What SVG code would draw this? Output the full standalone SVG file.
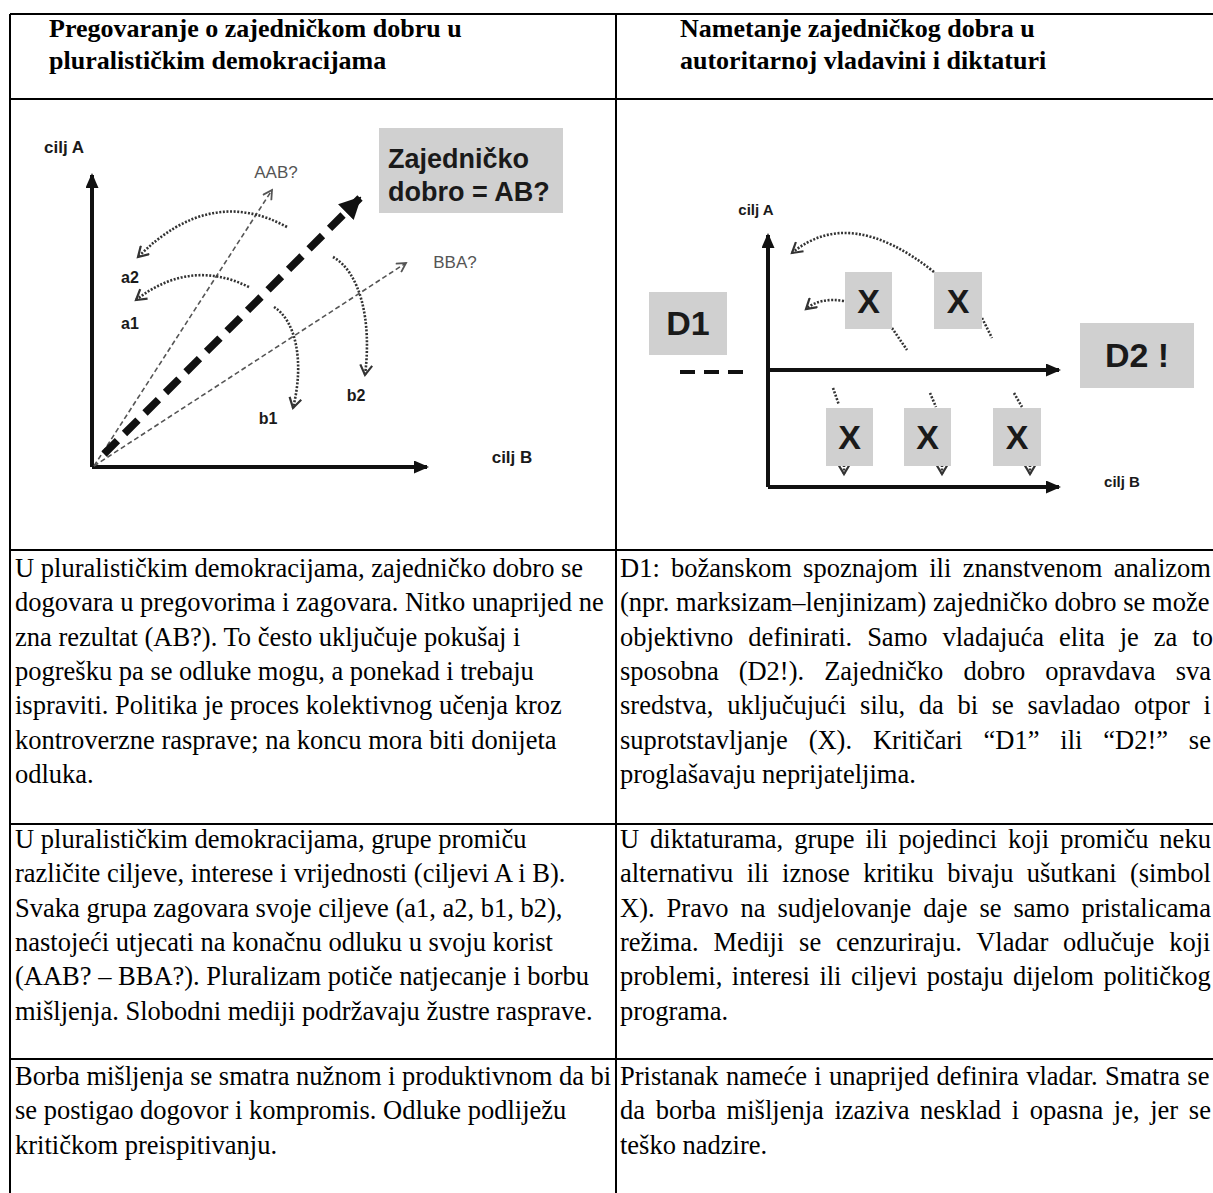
<svg xmlns="http://www.w3.org/2000/svg" width="1213" height="1193" viewBox="0 0 1213 1193">
<defs>
<style>
.grid{stroke:#000;stroke-width:2;fill:none}
.hd{font-family:"Liberation Serif","Times New Roman",serif;font-weight:bold;font-size:26px;fill:#000}
.b{font-family:"Liberation Serif","Times New Roman",serif;font-size:26.5px;fill:#000}
.dg{font-family:"Liberation Sans",Arial,sans-serif;font-weight:bold;fill:#1a1a1a}
.lbl{font-family:"Liberation Sans",Arial,sans-serif;font-size:17px;fill:#555}
.box{fill:#d0d0d0}
.axis{stroke:#111;stroke-width:4;fill:none}
.thin{stroke:#555;stroke-width:1.6;stroke-dasharray:5 3;fill:none}
.dot{stroke:#333;stroke-width:2.6;stroke-dasharray:2 1.6;fill:none}
</style>
<marker id="tri" viewBox="0 0 15 13" refX="13" refY="6.5" markerWidth="15" markerHeight="13" markerUnits="userSpaceOnUse" orient="auto"><path d="M0,0 L15,6.5 L0,13 z" fill="#111"/></marker>
<marker id="bigtri" viewBox="0 0 22 22" refX="20" refY="11" markerWidth="22" markerHeight="22" markerUnits="userSpaceOnUse" orient="auto"><path d="M0,0 L22,11 L0,22 z" fill="#111"/></marker>
<marker id="chev" viewBox="0 0 12 12" refX="10" refY="6" markerWidth="12" markerHeight="12" markerUnits="userSpaceOnUse" orient="auto"><path d="M1,1 L10,6 L1,11" fill="none" stroke="#555" stroke-width="1.8"/></marker>
<marker id="chevd" viewBox="0 0 14 14" refX="11" refY="7" markerWidth="14" markerHeight="14" markerUnits="userSpaceOnUse" orient="auto"><path d="M1,1 L11,7 L1,13" fill="none" stroke="#333" stroke-width="2.2"/></marker>
</defs>
<rect width="1213" height="1193" fill="#fff"/>

<g id="table">
<path class="grid" d="M10,14 H1213 M10,99 H1213 M10,550 H1213 M10,824 H1213 M10,1059 H1213 M10,14 V1193 M616,14 V1193"/>
</g>

<g id="header-left"><text class="hd" x="49" y="37">Pregovaranje o zajedničkom dobru u</text><text class="hd" x="49" y="69">pluralističkim demokracijama</text></g>
<g id="header-right"><text class="hd" x="680" y="37">Nametanje zajedničkog dobra u</text><text class="hd" x="680" y="69">autoritarnoj vladavini i diktaturi</text></g>

<g id="diagram-left">
<g id="left-connectors">
<path class="axis" d="M92,467 L92,175" marker-end="url(#tri)"/>
<path class="axis" d="M92,467 L427,467" marker-end="url(#tri)"/>
<path class="thin" d="M94,466 L272,190" marker-end="url(#chev)"/>
<path class="thin" d="M94,466 L406,263" marker-end="url(#chev)"/>
<path d="M104,454 L360,198" stroke="#111" stroke-width="7.5" stroke-dasharray="19 10" fill="none" marker-end="url(#bigtri)"/>
<path class="dot" d="M287,227 Q210,185 138,257" marker-end="url(#chevd)"/>
<path class="dot" d="M249,287 Q190,258 136,300" marker-end="url(#chevd)"/>
<path class="dot" d="M274,307 C295,320 305,360 293,408" marker-end="url(#chevd)"/>
<path class="dot" d="M333,257 C360,272 372,320 365,375" marker-end="url(#chevd)"/>
</g>
<g id="goal-box"><rect class="box" x="379" y="128" width="184" height="85"/><text class="dg" x="388" y="168" font-size="27">Zajedničko</text><text class="dg" x="388" y="201" font-size="27">dobro = AB?</text></g>
<text class="dg" x="64" y="153" font-size="17" text-anchor="middle">cilj A</text>
<text class="dg" x="512" y="463" font-size="17" text-anchor="middle">cilj B</text>
<text class="lbl" x="276" y="178" text-anchor="middle">AAB?</text>
<text class="lbl" x="455" y="268" text-anchor="middle">BBA?</text>
<text class="dg" x="130" y="283" font-size="16" text-anchor="middle" fill="#333">a2</text>
<text class="dg" x="130" y="329" font-size="16" text-anchor="middle" fill="#333">a1</text>
<text class="dg" x="268" y="424" font-size="16" text-anchor="middle" fill="#333">b1</text>
<text class="dg" x="356" y="401" font-size="16" text-anchor="middle" fill="#333">b2</text>
</g>

<g id="diagram-right">
<g id="right-connectors">
<path class="axis" d="M768,487 L768,235" marker-end="url(#tri)"/>
<path class="axis" d="M768,370 L1059,370" marker-end="url(#tri)"/>
<path class="axis" d="M768,487 L1059,487" marker-end="url(#tri)"/>
<path d="M680,372 L749,372" stroke="#111" stroke-width="4" stroke-dasharray="15 9" fill="none"/>
<path class="dot" d="M934,272 Q850,205 792,253" marker-end="url(#chevd)"/>
<path class="dot" d="M844,301 Q820,297 806,309" marker-end="url(#chevd)"/>
<path class="dot" d="M892,328 L907,350 M982,318 L992,338 M833,388 L839,405 M930,393 L936,407 M1014,393 L1022,407"/>
<path class="dot" d="M844,465 L844,474" marker-end="url(#chevd)"/>
<path class="dot" d="M942,465 L942,474" marker-end="url(#chevd)"/>
<path class="dot" d="M1030,465 L1030,474" marker-end="url(#chevd)"/>
</g>
<g id="d1"><rect class="box" x="649" y="292" width="78" height="63"/><text class="dg" x="688" y="335" font-size="34" text-anchor="middle">D1</text></g>
<g id="d2"><rect class="box" x="1080" y="323" width="114" height="65"/><text class="dg" x="1137" y="367" font-size="34" text-anchor="middle">D2 !</text></g>
<g id="x1"><rect class="box" x="845" y="272" width="47" height="57"/><text class="dg" x="868.5" y="313" font-size="34" text-anchor="middle">X</text></g>
<g id="x2"><rect class="box" x="934" y="272" width="48" height="57"/><text class="dg" x="958" y="313" font-size="34" text-anchor="middle">X</text></g>
<g id="x3"><rect class="box" x="826" y="408" width="47" height="58"/><text class="dg" x="849.5" y="449" font-size="34" text-anchor="middle">X</text></g>
<g id="x4"><rect class="box" x="904" y="408" width="47" height="58"/><text class="dg" x="927.5" y="449" font-size="34" text-anchor="middle">X</text></g>
<g id="x5"><rect class="box" x="993" y="408" width="48" height="58"/><text class="dg" x="1017" y="449" font-size="34" text-anchor="middle">X</text></g>
<text class="dg" x="756" y="215" font-size="15" text-anchor="middle">cilj A</text>
<text class="dg" x="1122" y="487" font-size="15" text-anchor="middle">cilj B</text>
</g>

<g id="row2-left">
<text class="b" x="15" y="577">U pluralističkim demokracijama, zajedničko dobro se</text>
<text class="b" x="15" y="611.3">dogovara u pregovorima i zagovara. Nitko unaprijed ne</text>
<text class="b" x="15" y="645.6">zna rezultat (AB?). To često uključuje pokušaj i</text>
<text class="b" x="15" y="679.9">pogrešku pa se odluke mogu, a ponekad i trebaju</text>
<text class="b" x="15" y="714.2">ispraviti. Politika je proces kolektivnog učenja kroz</text>
<text class="b" x="15" y="748.5">kontroverzne rasprave; na koncu mora biti donijeta</text>
<text class="b" x="15" y="782.8">odluka.</text>
</g>
<g id="row2-right">
<text class="b" x="620" y="577" word-spacing="4.70">D1: božanskom spoznajom ili znanstvenom analizom</text>
<text class="b" x="620" y="611.3" word-spacing="0.15">(npr. marksizam–lenjinizam) zajedničko dobro se može</text>
<text class="b" x="620" y="645.6" word-spacing="8.39">objektivno definirati. Samo vladajuća elita je za to</text>
<text class="b" x="620" y="679.9" word-spacing="13.40">sposobna (D2!). Zajedničko dobro opravdava sva</text>
<text class="b" x="620" y="714.2" word-spacing="7.08">sredstva, uključujući silu, da bi se savladao otpor i</text>
<text class="b" x="620" y="748.5" word-spacing="14.23">suprotstavljanje (X). Kritičari “D1” ili “D2!” se</text>
<text class="b" x="620" y="782.8">proglašavaju neprijateljima.</text>
</g>
<g id="row3-left">
<text class="b" x="15" y="848">U pluralističkim demokracijama, grupe promiču</text>
<text class="b" x="15" y="882.3">različite ciljeve, interese i vrijednosti (ciljevi A i B).</text>
<text class="b" x="15" y="916.6">Svaka grupa zagovara svoje ciljeve (a1, a2, b1, b2),</text>
<text class="b" x="15" y="950.9">nastojeći utjecati na konačnu odluku u svoju korist</text>
<text class="b" x="15" y="985.2">(AAB? – BBA?). Pluralizam potiče natjecanje i borbu</text>
<text class="b" x="15" y="1019.5">mišljenja. Slobodni mediji podržavaju žustre rasprave.</text>
</g>
<g id="row3-right">
<text class="b" x="620" y="848" word-spacing="4.30">U diktaturama, grupe ili pojedinci koji promiču neku</text>
<text class="b" x="620" y="882.3" word-spacing="6.73">alternativu ili iznose kritiku bivaju ušutkani (simbol</text>
<text class="b" x="620" y="916.6" word-spacing="5.36">X). Pravo na sudjelovanje daje se samo pristalicama</text>
<text class="b" x="620" y="950.9" word-spacing="8.22">režima. Mediji se cenzuriraju. Vladar odlučuje koji</text>
<text class="b" x="620" y="985.2" word-spacing="2.92">problemi, interesi ili ciljevi postaju dijelom političkog</text>
<text class="b" x="620" y="1019.5">programa.</text>
</g>
<g id="row4-left">
<text class="b" x="15" y="1085">Borba mišljenja se smatra nužnom i produktivnom da bi</text>
<text class="b" x="15" y="1119.3">se postigao dogovor i kompromis. Odluke podliježu</text>
<text class="b" x="15" y="1153.6">kritičkom preispitivanju.</text>
</g>
<g id="row4-right">
<text class="b" x="620" y="1085" word-spacing="0.74">Pristanak nameće i unaprijed definira vladar. Smatra se</text>
<text class="b" x="620" y="1119.3" word-spacing="4.01">da borba mišljenja izaziva nesklad i opasna je, jer se</text>
<text class="b" x="620" y="1153.6">teško nadzire.</text>
</g>
</svg>
